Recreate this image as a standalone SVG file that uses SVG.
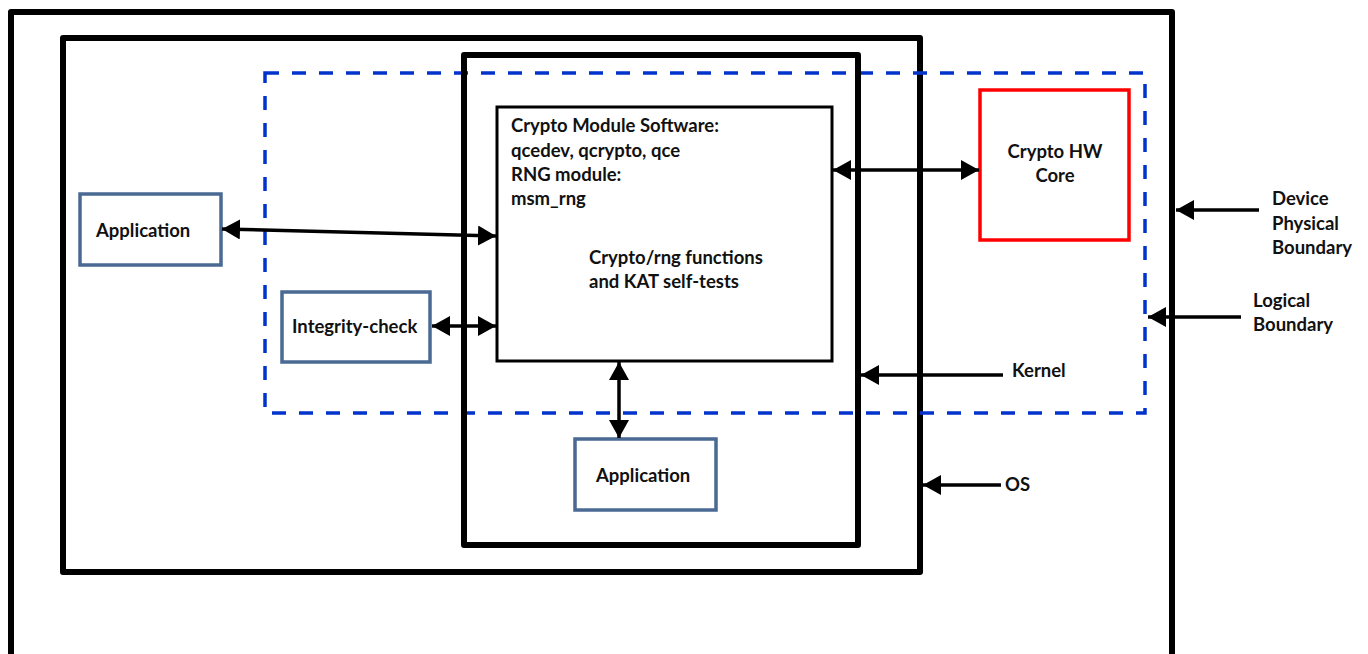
<svg xmlns="http://www.w3.org/2000/svg" width="1368" height="654" viewBox="0 0 1368 654">
<defs>
<style>
.bound{fill:none;stroke:#000;stroke-width:6;stroke-linejoin:round}
.logical{fill:none;stroke:#0033cc;stroke-width:3.5;stroke-dasharray:14 13}
.mod{fill:#fff;stroke:#000;stroke-width:3}
.app{fill:#fff;stroke:#4a6a94;stroke-width:3.5}
.hw{fill:#fff;stroke:#ff0000;stroke-width:3.5}
.conn{fill:none;stroke:#000;stroke-width:3.5}
text{font-family:Lato,"Open Sans","Liberation Sans",sans-serif;font-weight:bold;font-size:18.5px;fill:#111}
</style>
<marker id="ah" viewBox="0 0 18 20" refX="18" refY="10" markerWidth="18" markerHeight="20" markerUnits="userSpaceOnUse" orient="auto-start-reverse">
<path d="M0,0 L18,10 L0,20 z" fill="#000"/>
</marker>
</defs>
<g id="device-boundary"><path class="bound" d="M11,660 V12 H1172 V660"/></g>
<g id="os"><rect class="bound" x="63" y="38" width="857" height="534"/></g>
<g id="logical-boundary"><rect class="logical" x="265" y="73" width="880" height="340"/></g>
<g id="kernel"><rect class="bound" x="464" y="55" width="394" height="490"/></g>
<g id="crypto-module">
<rect class="mod" x="497" y="107" width="335" height="254"/>
<text x="511" y="132">Crypto Module Software:</text>
<text x="511" y="157">qcedev, qcrypto, qce</text>
<text x="511" y="181">RNG module:</text>
<text x="511" y="205">msm_rng</text>
<text x="589" y="264">Crypto/rng functions</text>
<text x="589" y="288">and KAT self-tests</text>
</g>
<g id="crypto-hw">
<rect class="hw" x="980" y="90" width="149" height="150"/>
<text x="1055" y="158" text-anchor="middle">Crypto HW</text>
<text x="1055" y="182" text-anchor="middle">Core</text>
</g>
<g id="app-left">
<rect class="app" x="80" y="194" width="141" height="71"/>
<text x="96" y="237">Application</text>
</g>
<g id="integrity-check">
<rect class="app" x="282" y="292" width="148" height="70"/>
<text x="292" y="333">Integrity-check</text>
</g>
<g id="app-bottom">
<rect class="app" x="575" y="439" width="141" height="71"/>
<text x="596" y="482">Application</text>
</g>
<g id="labels">
<text x="1272" y="205">Device</text>
<text x="1272" y="230">Physical</text>
<text x="1272" y="254">Boundary</text>
<text x="1253" y="307">Logical</text>
<text x="1253" y="331">Boundary</text>
<text x="1012" y="377">Kernel</text>
<text x="1005" y="491">OS</text>
</g>
<g id="connectors">
<line class="conn" x1="222" y1="229" x2="496" y2="236" marker-start="url(#ah)" marker-end="url(#ah)"/>
<line class="conn" x1="432" y1="326" x2="496" y2="326" marker-start="url(#ah)" marker-end="url(#ah)"/>
<line class="conn" x1="833" y1="170" x2="979" y2="170" marker-start="url(#ah)" marker-end="url(#ah)"/>
<line class="conn" x1="619" y1="362" x2="619" y2="438" marker-start="url(#ah)" marker-end="url(#ah)"/>
<line class="conn" x1="1259" y1="210" x2="1176" y2="210" marker-end="url(#ah)"/>
<line class="conn" x1="1241" y1="317" x2="1148" y2="317" marker-end="url(#ah)"/>
<line class="conn" x1="1003" y1="375" x2="861" y2="375" marker-end="url(#ah)"/>
<line class="conn" x1="1001" y1="485" x2="923" y2="485" marker-end="url(#ah)"/>
</g>
</svg>
